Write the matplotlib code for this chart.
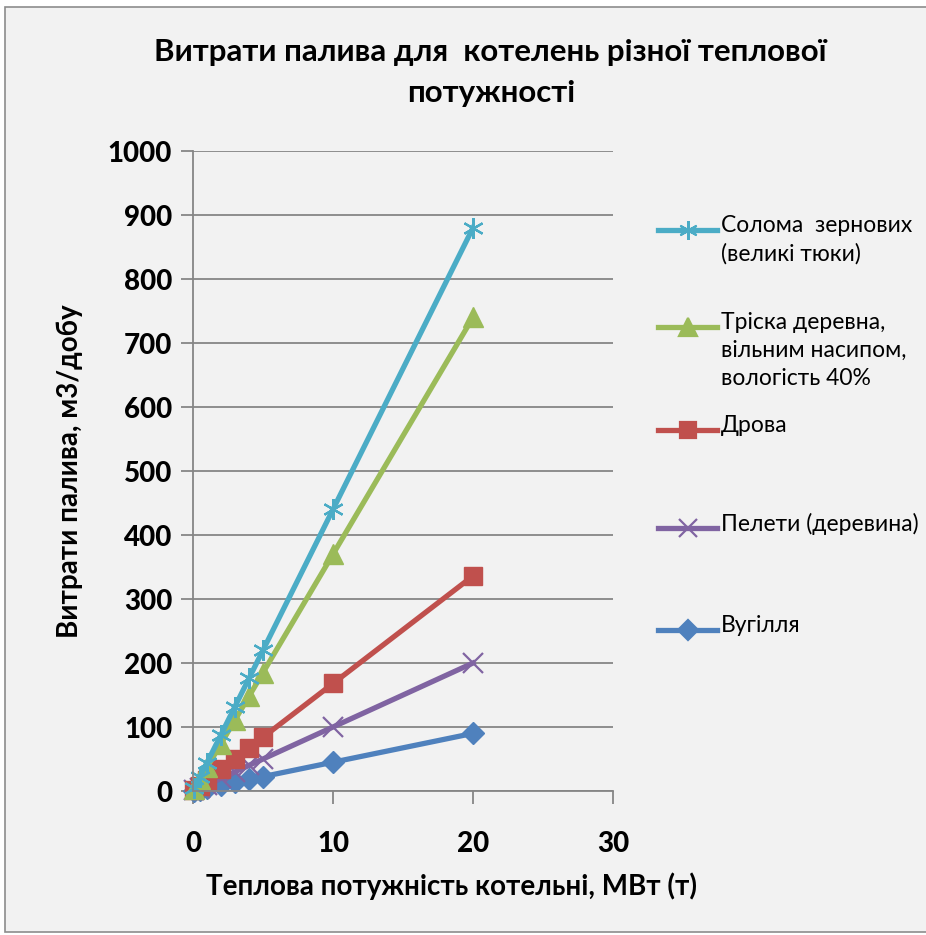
import numpy as np
import matplotlib
matplotlib.use('Agg')
import matplotlib.pyplot as plt
from matplotlib.lines import Line2D
from matplotlib.patches import Rectangle

# boiler capacity, MW
power = [0.1, 0.5, 1, 2, 3, 4, 5, 10, 20]

# fuel use, m3/day
straw   = [4.4, 22, 44, 88, 132, 176, 220, 440, 880]
chips   = [3.7, 18.5, 37, 74, 111, 148, 185, 370, 740]
firewood = [1.7, 8.4, 17, 34, 50, 67, 84, 168, 336]
pellets = [1.0, 5, 10, 20, 30, 40, 50, 100, 200]
coal    = [0.45, 2.3, 4.5, 9, 13.5, 18, 22.5, 45, 90]

labels = ['Солома  зернових\n(великі тюки)',
          'Тріска деревна,\nвільним насипом,\nвологість 40%',
          'Дрова',
          'Пелети (деревина)',
          'Вугілля']
colors = ['#4BACC6', '#9BBB59', '#C0504D', '#8064A2', '#4F81BD']
markers = [(6, 2, 0), '^', 's', 'x', 'D']
msizes = [15, 14, 13, 14, 11]
series = [straw, chips, firewood, pellets, coal]

plt.rcParams['font.family'] = ['Lato', 'DejaVu Sans']
bg = '#F2F2F2'

fig = plt.figure(figsize=(9.26, 9.35), dpi=100)
fig.patch.set_facecolor('white')
fig.patches.append(Rectangle((5/926, 0.003), 1.0, 1 - 7/935 - 0.003, transform=fig.transFigure,
                             facecolor=bg, edgecolor='#8C8C8C', lw=1.2, zorder=-1))

ax = fig.add_axes([193/926, 1 - 791/935, 420/926, 640/935])
ax.set_facecolor(bg)

# draw in reverse so straw ends on top like the original
for ys, c, m, ms in reversed(list(zip(series, colors, markers, msizes))):
    ax.plot(power, ys, color=c, lw=3.8, marker=m, ms=ms, mew=1.6 if m in ('x', (6, 2, 0)) else 1,
            mec=c, mfc=c, clip_on=False)

ax.set_xlim(0, 30)
ax.set_ylim(0, 1000)
ax.set_xticks([0, 10, 20, 30])
ax.set_yticks(np.arange(0, 1001, 100))
ax.yaxis.grid(True, color='#868686', lw=1.3)
ax.set_axisbelow(True)
for s in ['top', 'right']:
    ax.spines[s].set_visible(False)
for s in ['left', 'bottom']:
    ax.spines[s].set_color('#868686')
    ax.spines[s].set_linewidth(1.3)
ax.tick_params(axis='both', direction='out', color='#868686', width=1.3, length=9,
               labelsize=20, pad=6)
for t in ax.get_xticklabels() + ax.get_yticklabels():
    t.set_fontweight('black')
ax.tick_params(axis='x', pad=20)

ax.set_xlabel('Теплова потужність котельні, МВт (т)', fontsize=20, fontweight='bold')
ax.xaxis.set_label_coords((452 - 193) / 420, -(872 - 791) / 640)
ax.set_ylabel('Витрати палива, м3/добу', fontsize=20, fontweight='bold', labelpad=18)

fig.text(0.53, 1 - 52/935, 'Витрати палива для  котелень різної теплової', ha='center', va='center',
         fontsize=22.5, fontweight='bold')
fig.text(0.53, 1 - 93/935, 'потужності', ha='center', va='center', fontsize=22.5, fontweight='bold')

# legend drawn by hand so the marker lines up with the first text line
leg_y = [230, 327, 430, 528, 630]
for lab, c, m, ms, y in zip(labels, colors, markers, msizes, leg_y):
    yf = 1 - y / 935
    fig.add_artist(Line2D([658/926, 717/926], [yf, yf], transform=fig.transFigure, color=c, lw=3.8))
    fig.add_artist(Line2D([688/926], [yf], transform=fig.transFigure, color=c, marker=m, ms=ms * 0.9,
                          mew=1.6, mec=c, mfc=c))
    fig.text(721/926, yf + 15/935, lab, ha='left', va='top', fontsize=16.5, linespacing=1.4,
             transform=fig.transFigure)

fig.savefig('out.png', dpi=100, facecolor=fig.get_facecolor())
